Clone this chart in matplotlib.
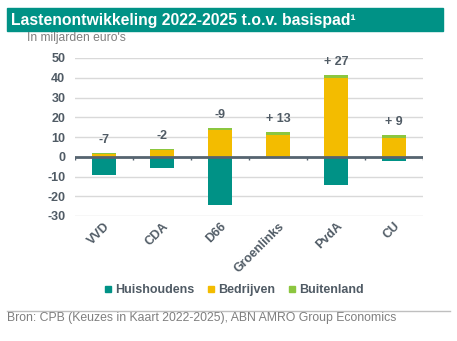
import numpy as np
import matplotlib.pyplot as plt
from matplotlib.patches import Rectangle
from matplotlib.lines import Line2D

plt.rcParams['font.family'] = ['Liberation Sans', 'DejaVu Sans']
plt.rcParams['axes.unicode_minus'] = False

partijen = ['VVD', 'CDA', 'D66', 'Groenlinks', 'PvdA', 'CU']
huishoudens = [-9.2, -5.5, -24.2, 0.0, -14.5, -1.9]
bedrijven = [1.5, 3.6, 13.3, 11.0, 39.7, 9.3]
buitenland = [0.5, 0.3, 1.4, 1.7, 1.5, 1.5]
labels = ['-7', '-2', '-9', '+ 13', '+ 27', '+ 9']

teal = '#009286'
geel = '#F3BC00'
groen = '#8CC63F'
tekst = '#505b65'

fig = plt.figure(figsize=(4.57, 3.41), dpi=100)
W, H = 457, 341

# title banner
fig.patches.append(Rectangle((7 / W, 1 - 31 / H), 436 / W, 23 / H,
                             transform=fig.transFigure, color=teal, zorder=0))
fig.text(11 / W, 1 - 20 / H, 'Lastenontwikkeling 2022-2025 t.o.v. basispad\u00b9',
         color='white', fontsize=11.3, fontweight='bold', va='center', ha='left')
fig.text(27 / W, 1 - 38 / H, "In miljarden euro's", color='#7f7f7f',
         fontsize=8.7, va='center', ha='left')

ax = fig.add_axes([75 / W, 1 - 216 / H, 348 / W, 158 / H])
x = np.arange(len(partijen))
w = 0.41
ax.bar(x, huishoudens, w, color=teal, zorder=3)
ax.bar(x, bedrijven, w, color=geel, zorder=3)
ax.bar(x, buitenland, w, bottom=bedrijven, color=groen, zorder=3)

top = np.array(bedrijven) + np.array(buitenland)
for xi, t, lab in zip(x, top, labels):
    ax.annotate(lab, (xi, t), xytext=(0, 5), textcoords='offset points',
                ha='center', va='bottom', fontsize=9, fontweight='bold', color=tekst)

ax.set_xlim(-0.5, 5.5)
ax.set_ylim(-30, 50)
ax.set_yticks(np.arange(-30, 51, 10))
ax.yaxis.grid(True, color='#d9d9d9', lw=1)
ax.set_axisbelow(True)
ax.axhline(0, color='#566470', lw=2, zorder=4)
ax.vlines(np.arange(-0.5, 6, 1), -1.6, 0, color='#566470', lw=1, zorder=4)
for s in ax.spines.values():
    s.set_visible(False)
ax.tick_params(length=0, colors=tekst, labelsize=9)
ax.tick_params(axis='y', pad=7)
for lab in ax.get_yticklabels():
    lab.set_fontweight('bold')
ax.set_xticks(x)
ax.set_xticklabels(partijen, rotation=45, ha='right', va='top',
                   rotation_mode='anchor', fontweight='bold', fontsize=9)
ax.tick_params(axis='x', pad=3)

handles = [Line2D([], [], marker='s', ls='none', color=c, markersize=5)
           for c in (teal, geel, groen)]
fig.legend(handles, ['Huishoudens', 'Bedrijven', 'Buitenland'],
           loc='center', bbox_to_anchor=(234 / W, 1 - 290 / H), ncol=3,
           frameon=False, handlelength=0.6, handletextpad=0.3, columnspacing=1.0,
           prop={'weight': 'bold', 'size': 9}, labelcolor=tekst)

fig.add_artist(Line2D([7 / W, 450 / W], [1 - 311 / H, 1 - 311 / H],
                      transform=fig.transFigure, color='#bfbfbf', lw=1))
fig.text(7 / W, 1 - 318 / H, 'Bron: CPB (Keuzes in Kaart 2022-2025), ABN AMRO Group Economics',
         color='#7f7f7f', fontsize=8.8, va='center', ha='left')

fig.savefig('out.png', dpi=100)
